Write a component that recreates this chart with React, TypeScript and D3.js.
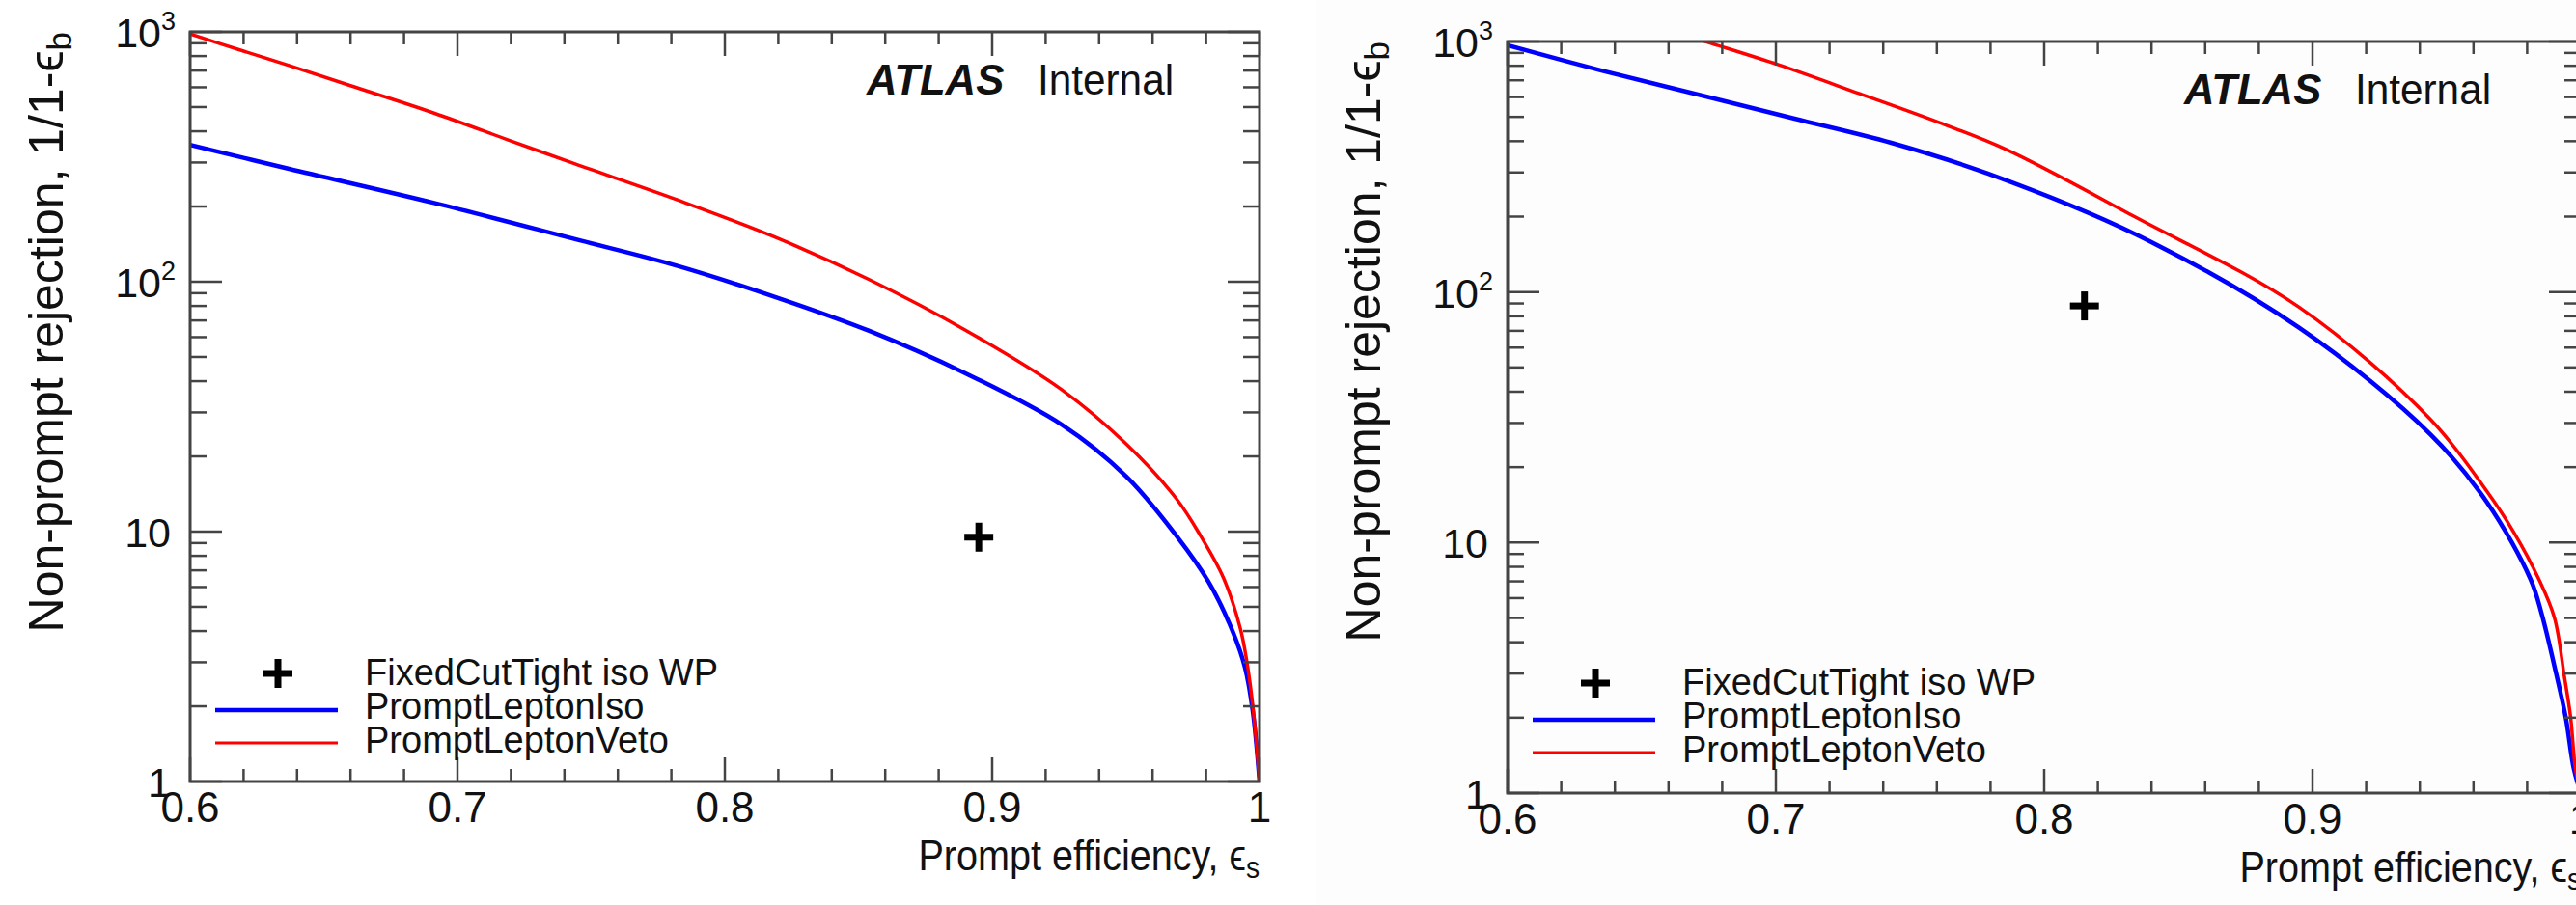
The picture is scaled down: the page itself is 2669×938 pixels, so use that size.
import React from "react";
import * as d3 from "d3";

// ---------- shared axis content ----------
const X_DOMAIN: [number, number] = [0.6, 1.0];
const Y_DOMAIN: [number, number] = [1, 1000];
const xMajorTicks = [0.6, 0.7, 0.8, 0.9, 1.0];
const xTickLabels = ["0.6", "0.7", "0.8", "0.9", "1"];
const yMajorTicks = [1, 10, 100, 1000];
const yTickBase = ["1", "10", "10", "10"];
const yTickExp = ["", "", "2", "3"];
const legendLabels = ["FixedCutTight iso WP", "PromptLeptonIso", "PromptLeptonVeto"];
const xTitleText = "Prompt efficiency, \u03F5";
const xTitleSub = "s";
const yTitleText = "Non-prompt rejection, 1/1-\u03F5";
const yTitleSub = "b";
const atlasLabel = "ATLAS";
const atlasStatus = "Internal";

// ---------- left panel data ----------
const leftIsoEff = [0.6, 0.637, 0.691, 0.744, 0.782, 0.818, 0.854, 0.89, 0.926, 0.95, 0.969, 0.9809, 0.9899, 0.9946, 0.9975, 1.0];
const leftIsoRej = [353, 283, 207, 148, 116, 87.5, 63.6, 43, 26.8, 16.7, 9.6, 6.3, 4.0, 2.85, 1.9, 1.0];
const leftVetoEff = [0.6, 0.62, 0.637, 0.66, 0.691, 0.72, 0.744, 0.782, 0.818, 0.854, 0.89, 0.926, 0.95, 0.969, 0.978, 0.9866, 0.9928, 0.9953, 0.9975, 1.0];
const leftVetoRej = [980, 837, 733, 609, 474, 366, 296, 213, 152, 102, 64, 37, 22.5, 13.5, 9.6, 6.5, 4.1, 3.0, 2.0, 1.0];
const leftWP: [number, number] = [0.895, 9.5];

// ---------- right panel data ----------
const rightIsoEff = [0.6, 0.635, 0.671, 0.707, 0.743, 0.779, 0.834, 0.895, 0.944, 0.965, 0.9812, 0.9854, 0.9908, 0.9944, 0.9974, 1.0];
const rightIsoRej = [965, 766, 614, 492, 394, 297, 170, 72, 27, 14.5, 7.16, 5.2, 3.0, 2.0, 1.25, 1.0];
const rightVetoEff = [0.66, 0.6737, 0.701, 0.731, 0.761, 0.786, 0.834, 0.895, 0.944, 0.965, 0.975, 0.9843, 0.9902, 0.9938, 0.9962, 0.998, 1.0];
const rightVetoRej = [1114, 1000, 807, 620, 474, 370, 199, 87, 31, 16, 11, 7.16, 5.0, 2.95, 2.01, 1.25, 1.0];
const rightWP: [number, number] = [0.815, 88];

const FONT = "'Liberation Sans', Arial, Helvetica, sans-serif";
const AXIS_COLOR = "#444";

type Frame = { x0: number; x1: number; y0: number; y1: number };

function Panel(props: {
  id: string;
  frame: Frame;
  isoEff: number[];
  isoRej: number[];
  vetoEff: number[];
  vetoRej: number[];
  wp: [number, number];
}) {
  const { id, frame, isoEff, isoRej, vetoEff, vetoRej, wp } = props;
  const { x0, x1, y0, y1 } = frame;
  const xs = d3.scaleLinear().domain(X_DOMAIN).range([x0, x1]);
  const ys = d3.scaleLog().domain(Y_DOMAIN).range([y1, y0]);
  const line = d3
    .line<[number, number]>()
    .x((d) => xs(d[0]))
    .y((d) => ys(d[1]))
    .curve(d3.curveCatmullRom.alpha(0.5));
  const iso = isoEff.map((e, i) => [e, isoRej[i]] as [number, number]);
  const veto = vetoEff.map((e, i) => [e, vetoRej[i]] as [number, number]);

  const xMinor = d3
    .range(0, 21)
    .map((i) => 0.6 + i * 0.02)
    .filter((v) => !xMajorTicks.some((m) => Math.abs(m - v) < 1e-6));
  const yMinor = [1, 10, 100].flatMap((b) => d3.range(2, 10).map((k) => k * b));

  const xMajLen = 25, xMinLen = 13, yMajLen = 33, yMinLen = 17;

  const cross = (cx: number, cy: number, key: string) => (
    <g key={key} stroke="#000" strokeWidth={7}>
      <line x1={cx - 15} x2={cx + 15} y1={cy} y2={cy} />
      <line x1={cx} x2={cx} y1={cy - 15} y2={cy + 15} />
    </g>
  );

  return (
    <g>
      <defs>
        <clipPath id={`clip-${id}`}>
          <rect x={x0} y={y0} width={x1 - x0} height={y1 - y0} />
        </clipPath>
      </defs>

      {/* curves */}
      <g clipPath={`url(#clip-${id})`} fill="none">
        <path d={line(iso) || ""} stroke="#0000ff" strokeWidth={4.5} />
        <path d={line(veto) || ""} stroke="#ff0000" strokeWidth={3.5} />
      </g>

      {/* working point */}
      {cross(xs(wp[0]), ys(wp[1]), "wp")}

      {/* frame */}
      <rect x={x0} y={y0} width={x1 - x0} height={y1 - y0} fill="none" stroke={AXIS_COLOR} strokeWidth={3} />

      {/* ticks */}
      <g stroke={AXIS_COLOR} strokeWidth={2.5}>
        {xMajorTicks.map((t) => (
          <g key={`xM${t}`}>
            <line x1={xs(t)} x2={xs(t)} y1={y1} y2={y1 - xMajLen} />
            <line x1={xs(t)} x2={xs(t)} y1={y0} y2={y0 + xMajLen} />
          </g>
        ))}
        {xMinor.map((t) => (
          <g key={`xm${t}`}>
            <line x1={xs(t)} x2={xs(t)} y1={y1} y2={y1 - xMinLen} />
            <line x1={xs(t)} x2={xs(t)} y1={y0} y2={y0 + xMinLen} />
          </g>
        ))}
        {yMajorTicks.map((t) => (
          <g key={`yM${t}`}>
            <line x1={x0} x2={x0 + yMajLen} y1={ys(t)} y2={ys(t)} />
            <line x1={x1} x2={x1 - yMajLen} y1={ys(t)} y2={ys(t)} />
          </g>
        ))}
        {yMinor.map((t) => (
          <g key={`ym${t}`}>
            <line x1={x0} x2={x0 + yMinLen} y1={ys(t)} y2={ys(t)} />
            <line x1={x1} x2={x1 - yMinLen} y1={ys(t)} y2={ys(t)} />
          </g>
        ))}
      </g>

      {/* tick labels */}
      <g fontFamily={FONT} fill="#111">
        {xMajorTicks.map((t, i) => (
          <text key={`xl${t}`} x={xs(t)} y={y1 + 42} fontSize={44} textAnchor="middle">
            {xTickLabels[i]}
          </text>
        ))}
        {yMajorTicks.map((t, i) => (
          <text
            key={`yl${t}`}
            x={yTickExp[i] ? x0 - 15 : x0 - 20}
            y={ys(t) + 16}
            fontSize={43}
            textAnchor="end"
          >
            {yTickBase[i]}
            {yTickExp[i] ? (
              <tspan dy={-18} fontSize={27}>
                {yTickExp[i]}
              </tspan>
            ) : null}
          </text>
        ))}
      </g>

      {/* axis titles */}
      <g fontFamily={FONT} fill="#111">
        <text transform={`translate(${x1},${y1 + 92}) scale(0.88,1)`} fontSize={45} textAnchor="end">
          {xTitleText}
          <tspan dy={8} fontSize={32}>
            {xTitleSub}
          </tspan>
        </text>
        <text transform={`translate(${x0 - 132},${y0}) rotate(-90)`} fontSize={50} textAnchor="end">
          {yTitleText}
          <tspan dy={9} fontSize={35}>
            {yTitleSub}
          </tspan>
        </text>
      </g>

      {/* ATLAS label */}
      <g fontFamily={FONT} fill="#111">
        <text transform={`translate(${x0 + 701},${y0 + 65}) scale(0.97,1)`} fontSize={45} fontWeight="bold" fontStyle="italic">
          {atlasLabel}
        </text>
        <text transform={`translate(${x0 + 878},${y0 + 65}) scale(0.94,1)`} fontSize={45}>
          {atlasStatus}
        </text>
      </g>

      {/* legend */}
      <g>
        {cross(x0 + 91, y0 + 665, "legcross")}
        <line x1={x0 + 26} x2={x0 + 153} y1={y0 + 703} y2={y0 + 703} stroke="#0000ff" strokeWidth={4.5} />
        <line x1={x0 + 26} x2={x0 + 153} y1={y0 + 737} y2={y0 + 737} stroke="#ff0000" strokeWidth={3} />
        <g fontFamily={FONT} fontSize={38} fill="#111">
          {legendLabels.map((l, i) => (
            <text key={l} x={x0 + 181} y={y0 + 677 + i * 35}>
              {l}
            </text>
          ))}
        </g>
      </g>
    </g>
  );
}

export default function App() {
  const leftFrame: Frame = { x0: 197, x1: 1305, y0: 33, y1: 810 };
  const rightFrame: Frame = { x0: 1562, x1: 2674, y0: 43, y1: 822 };
  return (
    <svg
      width={2669}
      height={938}
      viewBox="0 0 2669 938"
      style={{ position: "absolute", left: 0, top: 0, background: "#fff" }}
    >
      <rect x={0} y={0} width={2669} height={938} fill="#fff" />
      <rect x={1363} y={0} width={1306} height={938} fill="#fdfdfd" />
      <Panel
        id="left"
        frame={leftFrame}
        isoEff={leftIsoEff}
        isoRej={leftIsoRej}
        vetoEff={leftVetoEff}
        vetoRej={leftVetoRej}
        wp={leftWP}
      />
      <Panel
        id="right"
        frame={rightFrame}
        isoEff={rightIsoEff}
        isoRej={rightIsoRej}
        vetoEff={rightVetoEff}
        vetoRej={rightVetoRej}
        wp={rightWP}
      />
    </svg>
  );
}
